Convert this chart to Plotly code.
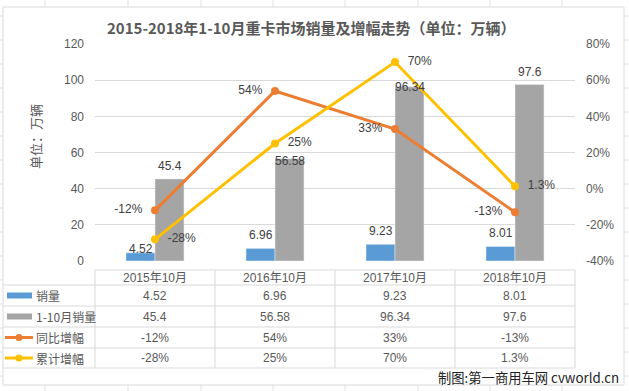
import plotly.graph_objects as go

# ---- data ----
categories = ["2015年10月", "2016年10月", "2017年10月", "2018年10月"]
sales_oct = [4.52, 6.96, 9.23, 8.01]          # 销量
sales_ytd = [45.4, 56.58, 96.34, 97.6]         # 1-10月销量
yoy_pct = [-12, 54, 33, -13]                   # 同比增幅 (%)
cum_pct = [-28, 25, 70, 1.3]                   # 累计增幅 (%)
series_names = ["销量", "1-10月销量", "同比增幅", "累计增幅"]
left_ticks = [0, 20, 40, 60, 80, 100, 120]
right_ticks = [-40, -20, 0, 20, 40, 60, 80]

BLUE = "#5B9BD5"
GRAY = "#A5A5A5"
ORANGE = "#ED7D31"
YELLOW = "#FFC000"
TXT = "#595959"
LBL = "#404040"
GRID = "#D9D9D9"
FONT = "Liberation Sans, Noto Sans CJK SC, sans-serif"
CJK = "Noto Sans CJK SC, sans-serif"

W, H = 629, 391
L, R, T, B = 95, 575, 44, 261


def xp(px):
    return (px - L) / (R - L)


def yp(py):
    return (B - py) / (B - T)


def fmt(v):
    return f"{v:g}"


def pfmt(v):
    return f"{v:g}%"


fig = go.Figure()
fig.add_bar(x=categories, y=sales_oct, name=series_names[0], marker_color=BLUE)
fig.add_bar(x=categories, y=sales_ytd, name=series_names[1], marker_color=GRAY)
fig.add_scatter(x=categories, y=yoy_pct, name=series_names[2], yaxis="y2",
                mode="lines+markers+text", line=dict(color=ORANGE, width=3),
                marker=dict(size=8, color=ORANGE),
                text=["%s  " % pfmt(v) for v in yoy_pct], textposition="middle left",
                textfont=dict(size=12, color=LBL, family=FONT), cliponaxis=False)
fig.add_scatter(x=categories, y=cum_pct, name=series_names[3], yaxis="y2",
                mode="lines+markers+text", line=dict(color=YELLOW, width=3),
                marker=dict(size=8, color=YELLOW),
                text=["  %s" % pfmt(v) for v in cum_pct], textposition="middle right",
                textfont=dict(size=12, color=LBL, family=FONT), cliponaxis=False)

shapes = []
annotations = []

# bar data labels (Excel-like placement; some nudged as in the source chart)
oct_shift = [4, 13, 13, 14]
ytd_shift = [13, -2, 0, 13]
for i, c in enumerate(categories):
    annotations.append(dict(xref="x", yref="y", x=c, y=sales_oct[i], text=fmt(sales_oct[i]),
                            xshift=-14.5, yshift=oct_shift[i], showarrow=False,
                            xanchor="center", yanchor="middle",
                            font=dict(size=12, color=LBL, family=FONT)))
    annotations.append(dict(xref="x", yref="y", x=c, y=sales_ytd[i], text=fmt(sales_ytd[i]),
                            xshift=14.5, yshift=ytd_shift[i], showarrow=False,
                            xanchor="center", yanchor="middle",
                            font=dict(size=12, color=LBL, family=FONT)))


def line(x0, y0, x1, y1, color=GRID, width=1):
    shapes.append(dict(type="line", xref="paper", yref="paper",
                       x0=xp(x0), y0=yp(y0), x1=xp(x1), y1=yp(y1),
                       line=dict(color=color, width=width), layer="above"))


# Excel sheet grid outside the chart
for cx in [45, 128, 201, 273, 345, 418, 490, 562]:
    line(cx, 0, cx, 7, "#E2E2E2")
    line(cx, 385, cx, 391, "#E2E2E2")
for ry in range(16, 391, 24):
    line(0, ry, 3, ry, "#E2E2E2")
    line(624, ry, 629, ry, "#E2E2E2")

# chart border
shapes.append(dict(type="rect", xref="paper", yref="paper",
                   x0=xp(3), y0=yp(7), x1=xp(624), y1=yp(385),
                   line=dict(color=GRID, width=1), layer="below"))

# data table
col_x = [95, 215, 335, 455, 575]
row_y = [270, 285, 306, 327, 348, 368]
line(95, row_y[0], 575, row_y[0])
for ry in row_y[1:]:
    line(3, ry, 575, ry)
for cx in col_x:
    line(cx, row_y[0], cx, row_y[-1])

# header
for i, c in enumerate(categories):
    annotations.append(dict(xref="paper", yref="paper", x=xp((col_x[i] + col_x[i + 1]) / 2),
                            y=yp((row_y[0] + row_y[1]) / 2), text=c, showarrow=False,
                            font=dict(size=12, color=TXT, family=FONT),
                            xanchor="center", yanchor="middle"))

rows = [[fmt(v) for v in sales_oct], [fmt(v) for v in sales_ytd],
        [pfmt(v) for v in yoy_pct], [pfmt(v) for v in cum_pct]]
for r, vals in enumerate(rows):
    cy = (row_y[r + 1] + row_y[r + 2]) / 2
    for i, v in enumerate(vals):
        annotations.append(dict(xref="paper", yref="paper", x=xp((col_x[i] + col_x[i + 1]) / 2),
                                y=yp(cy), text=v, showarrow=False,
                                font=dict(size=12, color=TXT, family=FONT),
                                xanchor="center", yanchor="middle"))
    # legend label
    annotations.append(dict(xref="paper", yref="paper", x=xp(34), y=yp(cy),
                            text=series_names[r], showarrow=False,
                            font=dict(size=12, color=TXT, family=CJK),
                            xanchor="left", yanchor="middle"))
    # legend key
    if r < 2:
        shapes.append(dict(type="rect", xref="paper", yref="paper",
                           x0=xp(7), x1=xp(32), y0=yp(cy - 3), y1=yp(cy + 3),
                           fillcolor=[BLUE, GRAY][r], line=dict(width=0), layer="above"))
    else:
        col = [ORANGE, YELLOW][r - 2]
        line(5, cy, 33, cy, col, 3)
        shapes.append(dict(type="circle", xref="paper", yref="paper",
                           x0=xp(15.5), x1=xp(22.5), y0=yp(cy - 3.5), y1=yp(cy + 3.5),
                           fillcolor=col, line=dict(width=0), layer="above"))

# title
annotations.append(dict(xref="paper", yref="paper", x=xp(311), y=yp(27),
                        text="<b>2015-2018年1-10月重卡市场销量及增幅走势（单位：万辆）</b>",
                        showarrow=False, font=dict(size=15, color=TXT, family=CJK),
                        xanchor="center", yanchor="middle"))
# y axis title
annotations.append(dict(xref="paper", yref="paper", x=xp(35), y=yp(137),
                        text="单位：万辆", textangle=-90, showarrow=False,
                        font=dict(size=13, color=TXT, family=CJK),
                        xanchor="center", yanchor="middle"))
# watermark
annotations.append(dict(xref="paper", yref="paper", x=xp(621), y=yp(377),
                        text="制图:第一商用车网 cvworld.cn", showarrow=False,
                        font=dict(size=13.3, color="#222222", family=CJK),
                        xanchor="right", yanchor="middle"))

fig.update_layout(
    width=W, height=H,
    margin=dict(l=L, r=W - R, t=T, b=H - B, pad=0),
    paper_bgcolor="white", plot_bgcolor="white",
    barmode="group", bargap=0.517, bargroupgap=0,
    showlegend=False,
    xaxis=dict(showticklabels=False, showgrid=False, zeroline=False, showline=False,
               range=[-0.5, 3.5]),
    yaxis=dict(range=[0, 120], tickvals=left_ticks, showgrid=True, gridcolor=GRID,
               zeroline=False, showline=False, ticks="", ticklabelstandoff=10,
               tickfont=dict(size=12, color=TXT, family=FONT)),
    yaxis2=dict(range=[-40, 80], tickvals=right_ticks,
                ticktext=[pfmt(v) for v in right_ticks], overlaying="y",
                side="right", showgrid=False, zeroline=False, showline=False, ticks="",
                ticklabelstandoff=10, tickfont=dict(size=12, color=TXT, family=FONT)),
    shapes=shapes, annotations=annotations,
)

fig.write_html("out.html", config={"displayModeBar": False})

# remove the browser's default page margin so the figure sits at (0, 0)
with open("out.html", encoding="utf-8") as f:
    html = f.read()
html = html.replace("<body>", '<body style="margin:0;overflow:hidden">', 1)
with open("out.html", "w", encoding="utf-8") as f:
    f.write(html)
